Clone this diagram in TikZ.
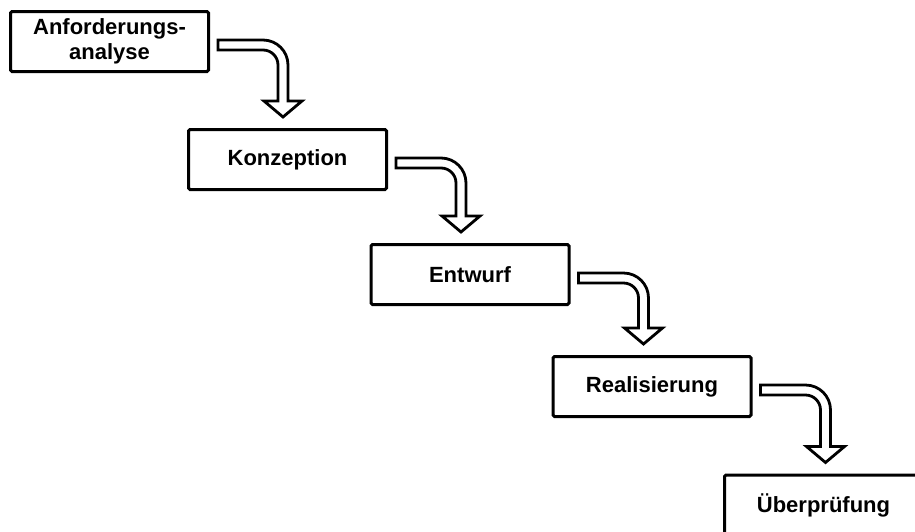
\documentclass[tikz,border=0pt]{standalone}
\usepackage{fontspec}
\setmainfont{Liberation Sans}
\usetikzlibrary{calc}

\tikzset{
  phase/.style={draw=black, line width=3pt, fill=white, rounded corners=1.5pt,
    minimum width=198pt, minimum height=60pt, inner sep=0pt, align=center,
    font=\fontsize{22}{25}\selectfont\bfseries},
  flowarrow/.style={draw=black, fill=white, line width=2.8pt, line join=miter}
}

% bent block arrow leaving the right side of #1 and pointing down onto #2
\newcommand\stairarrow[2]{%
  \draw[flowarrow] let \p1=(#1.north east), \p2=(#2.north) in
    (\x1+8pt,\y1-30pt) -- (\x1+53pt,\y1-30pt)
    arc[start angle=90, end angle=0, radius=25pt]
    -- (\x1+78pt,\y2+27pt) -- (\x1+92pt,\y2+27pt)
    -- (\x1+73pt,\y2+11pt)
    -- (\x1+54pt,\y2+27pt) -- (\x1+68pt,\y2+27pt)
    -- (\x1+68pt,\y1-55pt)
    arc[start angle=0, end angle=90, radius=15pt]
    -- (\x1+8pt,\y1-40pt) -- cycle;}

\begin{document}
\begin{tikzpicture}[x=1pt, y=1pt]
  \useasboundingbox (0,0) rectangle (915,-531);
  \clip (0,0) rectangle (915,-531);

  \node[phase] (ana) at (109.5,-41.5) {Anforderungs-\\analyse};
  \node[phase] (kon) at (287.5,-159.5) {Konzeption};
  \node[phase] (ent) at (470,-274.5) {Entwurf};
  \node[phase] (rea) at (652,-386.5) {Realisierung};
  \node[phase] (pru) at (823.5,-505) {Überprüfung};

  \stairarrow{ana}{kon}
  \stairarrow{kon}{ent}
  \stairarrow{ent}{rea}
  \stairarrow{rea}{pru}
\end{tikzpicture}
\end{document}
